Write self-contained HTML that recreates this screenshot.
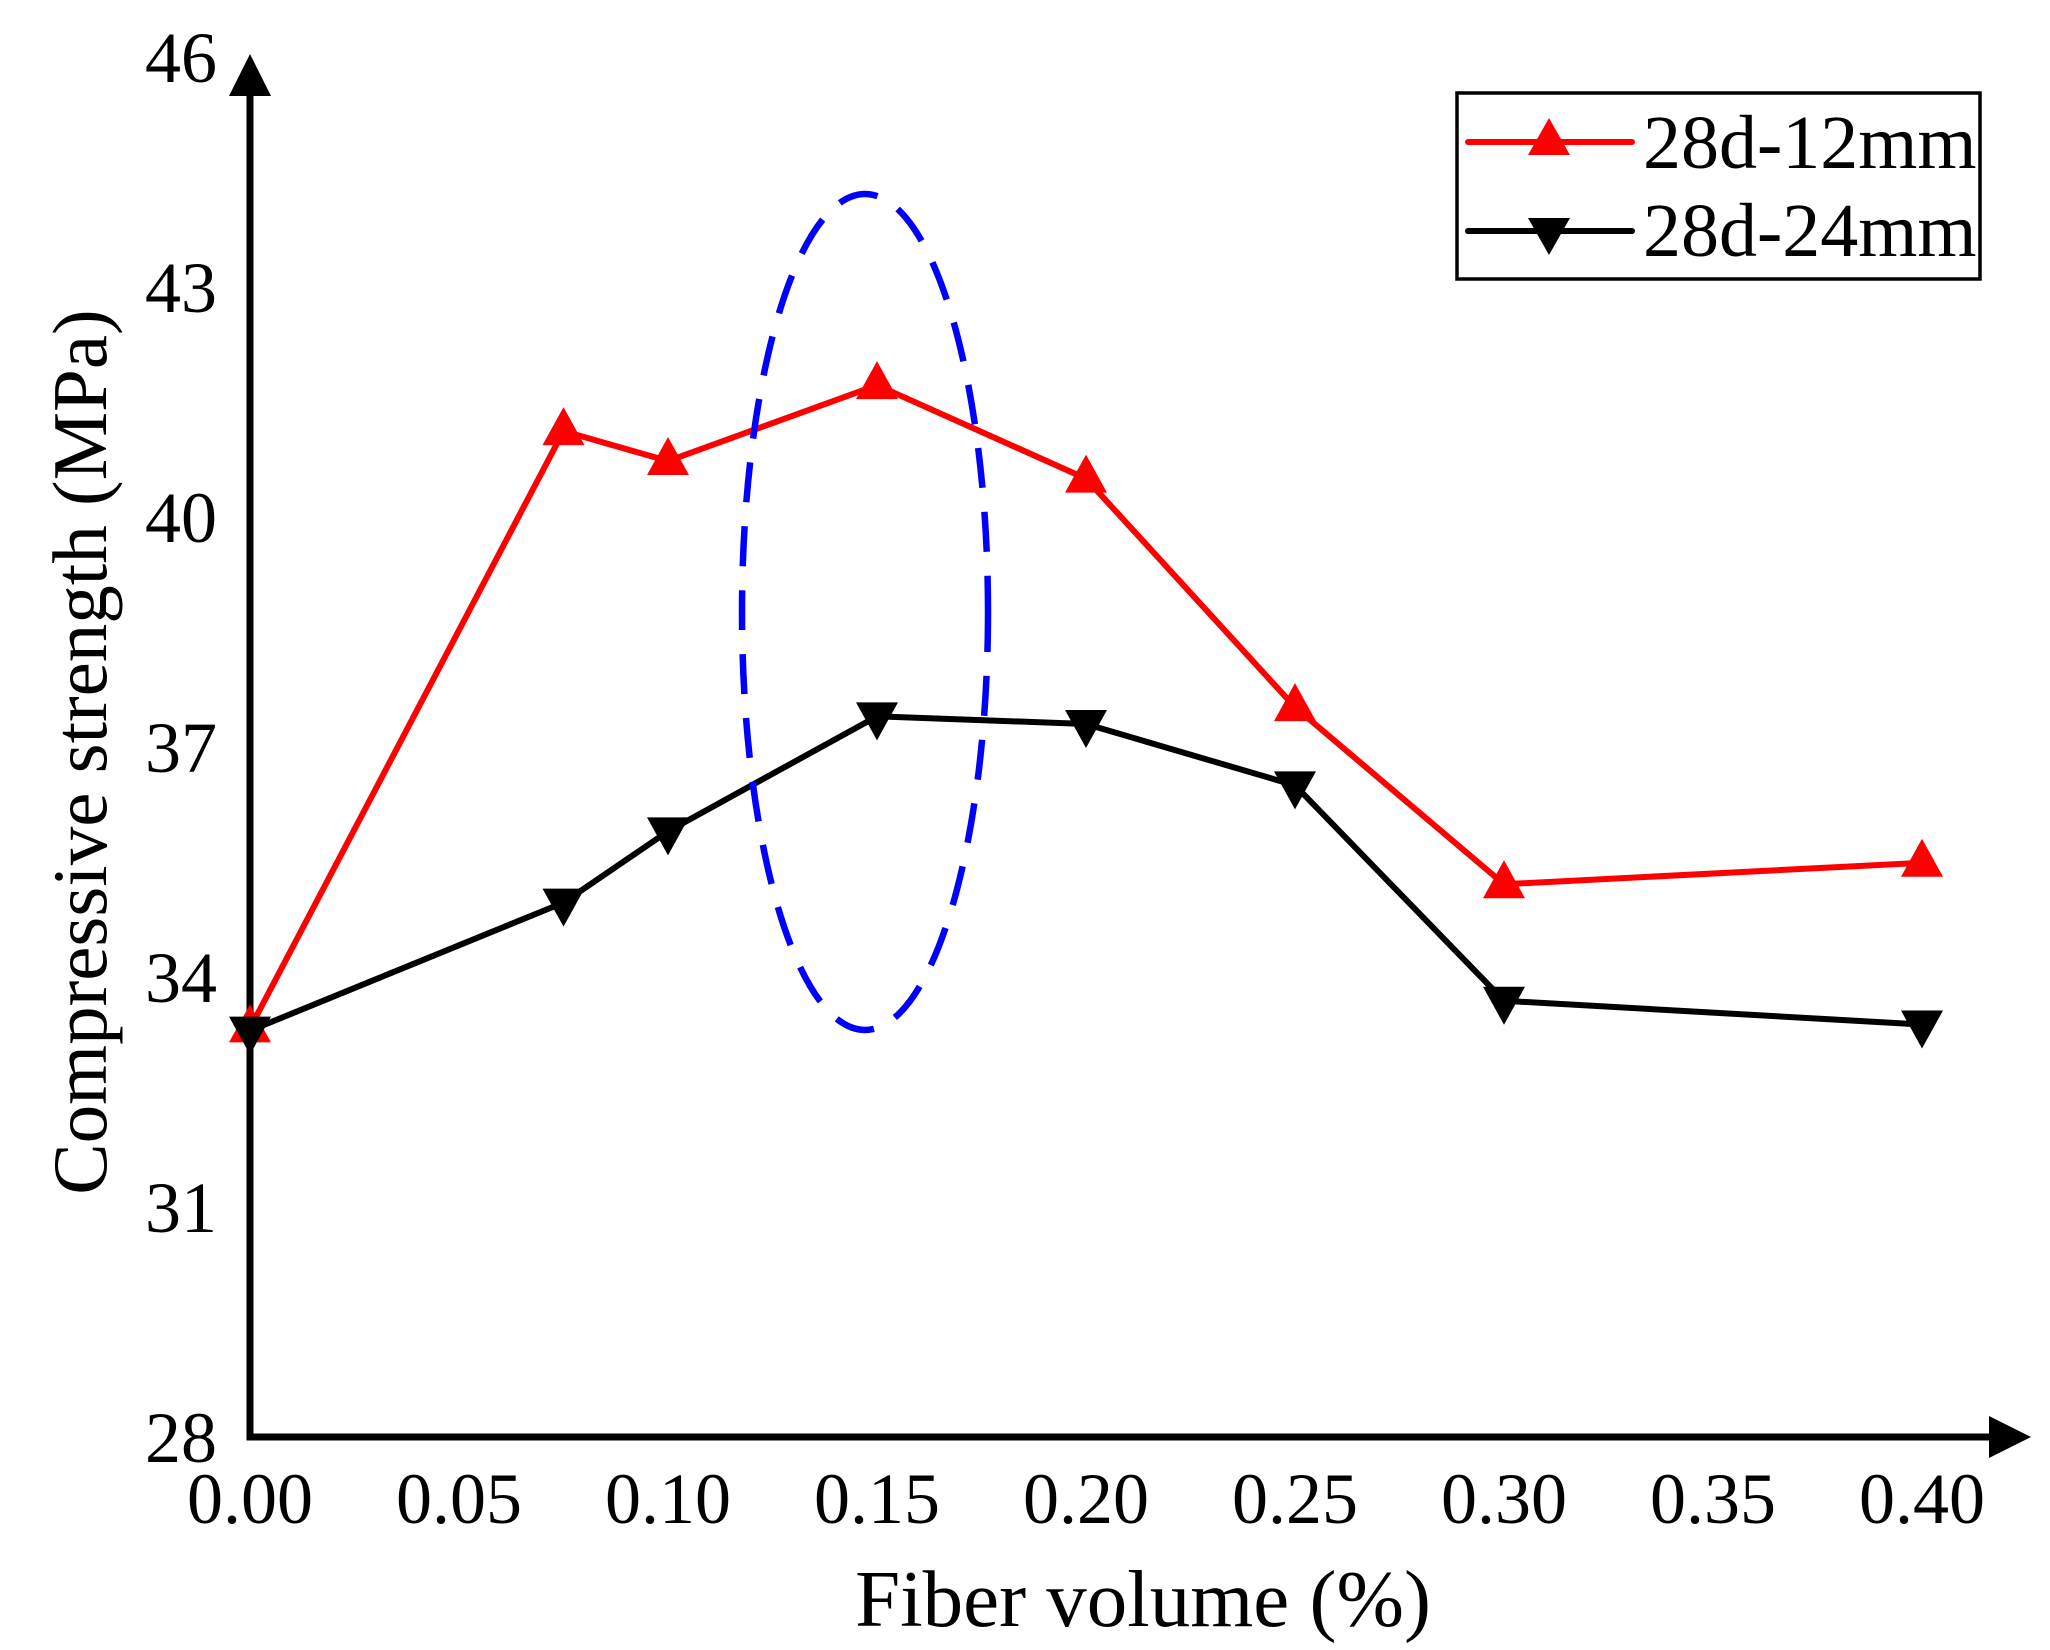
<!DOCTYPE html>
<html><head><meta charset="utf-8"><style>
html,body{margin:0;padding:0;background:#fff;}
svg{display:block;font-family:"Liberation Serif",serif;}
</style></head><body>
<svg id="chart" width="2050" height="1650" viewBox="0 0 2050 1650">
<g id="axes"></g>
<g id="series"></g>
<ellipse cx="865" cy="612" rx="123" ry="418" fill="none" stroke="#0000ff" stroke-width="6.5" stroke-dasharray="40,24"/>
<g>
<rect x="1457" y="93" width="523" height="186" fill="#fff" stroke="#000" stroke-width="3.5"/>
<g>
<line x1="1468" y1="142" x2="1632" y2="142" stroke="#ff0000" stroke-width="6" stroke-linecap="round"/>
<polygon points="1549,118 1570,155 1528,155" fill="#ff0000"/>
<text x="1643" y="168" font-size="76">28d-12mm</text></g>
<g>
<line x1="1468" y1="231" x2="1632" y2="231" stroke="#000" stroke-width="6" stroke-linecap="round"/>
<polygon points="1528,218 1570,218 1549,255" fill="#000"/>
<text x="1643" y="256" font-size="76">28d-24mm</text></g>
</g>
<text x="1143" y="1626" font-size="81" text-anchor="middle">Fiber volume (%)</text>
<text transform="translate(106,752) rotate(-90)" font-size="77" text-anchor="middle">Compressive strength (MPa)</text>
</svg>
<script>
const xValues = [0, 0.075, 0.10, 0.15, 0.20, 0.25, 0.30, 0.40];
const series12 = [33.33, 41.12, 40.73, 41.72, 40.50, 37.52, 35.21, 35.49];
const series24 = [33.30, 34.97, 35.90, 37.40, 37.30, 36.50, 33.69, 33.38];
const xTicks = [0, 0.05, 0.10, 0.15, 0.20, 0.25, 0.30, 0.35, 0.40];
const xTickLabels = ["0.00","0.05","0.10","0.15","0.20","0.25","0.30","0.35","0.40"];
const yTicks = [28, 31, 34, 37, 40, 43, 46];

const NS = "http://www.w3.org/2000/svg";
const X0 = 250, X1 = 1922, Y0 = 1437, Y1 = 57;
function sx(v){ return X0 + (v - 0) / 0.40 * (X1 - X0); }
function sy(v){ return Y0 - (v - 28) / 18 * (Y0 - Y1); }
function mk(tag, attrs, parent){ const e = document.createElementNS(NS, tag); for (const k in attrs) e.setAttribute(k, attrs[k]); parent.appendChild(e); return e; }

const axes = document.getElementById('axes');
const yAxis = mk('line', {x1:X0, y1:Y0+3.5, x2:X0, y2:94, stroke:'#000','stroke-width':7}, axes);


const yArrow = mk('polygon', {points:`${X0},54 ${X0+21},96 ${X0-21},96`, fill:'#000'}, axes);


const xAxis = mk('line', {x1:X0-3.5, y1:Y0, x2:1992, y2:Y0, stroke:'#000','stroke-width':7}, axes);


const xArrow = mk('polygon', {points:`2031,${Y0} 1989,${Y0-21} 1989,${Y0+21}`, fill:'#000'}, axes);



xTicks.forEach((t, i) => {
  const tx = mk('text', {x:sx(t), y:1523, 'font-size':72, 'text-anchor':'middle'}, axes);
  tx.textContent = xTickLabels[i];
  
  
});
yTicks.forEach(t => {
  const ty = mk('text', {x:217, y:sy(t)+25, 'font-size':72, 'text-anchor':'end'}, axes);
  ty.textContent = String(t);
  
  
});

const sg = document.getElementById('series');
function drawSeries(vals, color, up, name){
  const g = mk('g', {}, sg);
  
  
  const pts = vals.map((v, i) => sx(xValues[i]) + ',' + sy(v)).join(' ');
  const pl = mk('polyline', {points:pts, fill:'none', stroke:color, 'stroke-width':6, 'stroke-linejoin':'round'}, g);
  
  
  vals.forEach((v, i) => {
    const cx = sx(xValues[i]), cy = sy(v);
    const p = up ? `${cx},${cy-24} ${cx+21},${cy+14} ${cx-21},${cy+14}` : `${cx-21},${cy-14} ${cx+21},${cy-14} ${cx},${cy+24}`;
    const m = mk('polygon', {points:p, fill:color}, g);
    
    
  });
}
drawSeries(series12, '#ff0000', true, 'series-28d-12mm');
drawSeries(series24, '#000000', false, 'series-28d-24mm');
</script>
</body></html>
